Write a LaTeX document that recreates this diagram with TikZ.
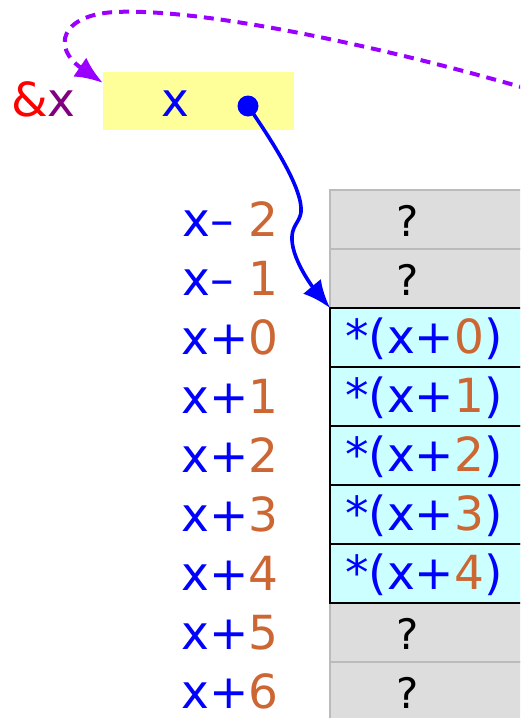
\documentclass[tikz,border=0pt]{standalone}
\usepackage{fontspec}
\setmainfont{DejaVu Sans}
\usetikzlibrary{arrows.meta}
\definecolor{numc}{HTML}{CC6633}
\definecolor{cellg}{HTML}{DDDDDD}
\definecolor{cellgb}{HTML}{BBBBBB}
\definecolor{cellc}{HTML}{CCFFFF}
\definecolor{yel}{HTML}{FFFF99}
\definecolor{purp}{HTML}{800080}
\definecolor{vio}{HTML}{9900FF}
\tikzset{
  lbl/.style={anchor=base east, inner sep=0pt, font=\fontsize{47}{53}\selectfont, text=blue},
  ctext/.style={anchor=base west, inner sep=0pt, font=\fontsize{47}{53}\selectfont, text=blue},
  qtext/.style={anchor=base, inner sep=0pt, font=\fontsize{42}{48}\selectfont, text=black},
  graycell/.style={fill=cellg, draw=cellgb, line width=1.8pt},
  cyancell/.style={fill=cellc, draw=black, line width=2pt},
  bigtip/.style={-{Latex[length=28pt,width=23pt]}},
}
\newcommand{\nm}[1]{\textcolor{numc}{#1}}
\begin{document}
\begin{tikzpicture}[x=1pt,y=-1pt]
\useasboundingbox (0,0) rectangle (520,718);
\clip (0,0) rectangle (520,718);
% yellow box
\node[fill=yel, minimum width=191pt, minimum height=58pt, inner sep=0pt, anchor=north west] (box) at (103,72) {};
\node[inner sep=0pt, font=\fontsize{47}{53}\selectfont, text=blue, anchor=base] (bx) at (175,116) {x};
\node[circle, fill=blue, minimum size=21pt, inner sep=0pt] (dot) at (248,106) {};
\node[inner sep=0pt, anchor=base west, font=\fontsize{47}{53}\selectfont] (amp) at (11,116) {\textcolor{red}{\&}\textcolor{purp}{x}};
% cells
\foreach \i in {0,1,7,8}{
  \pgfmathsetmacro{\ytop}{190+59*\i}
  \draw[graycell] (330,\ytop) rectangle (560,\ytop+59);
}
\foreach \i in {2,3,4,5,6}{
  \pgfmathsetmacro{\ytop}{190+59*\i}
  \draw[cyancell] (330,\ytop) rectangle (560,\ytop+59);
}
\coordinate (c0) at (330,308);
% cell texts
\node[qtext] (q1) at (408,236) {?};
\node[qtext] (q2) at (408,295) {?};
\node[qtext] (q3) at (408,649) {?};
\node[qtext] (q4) at (408,708) {?};
\node[ctext] (t0) at (345,353) {*(x+\nm{0})};
\node[ctext] (t1) at (345,412) {*(x+\nm{1})};
\node[ctext] (t2) at (345,471) {*(x+\nm{2})};
\node[ctext] (t3) at (345,530) {*(x+\nm{3})};
\node[ctext] (t4) at (345,589) {*(x+\nm{4})};
% labels
\node[lbl] (l1) at (279,236) {x– \nm{2}};
\node[lbl] (l2) at (279,295) {x– \nm{1}};
\node[lbl] (l3) at (279,354) {x+\nm{0}};
\node[lbl] (l4) at (279,413) {x+\nm{1}};
\node[lbl] (l5) at (279,472) {x+\nm{2}};
\node[lbl] (l6) at (279,531) {x+\nm{3}};
\node[lbl] (l7) at (279,590) {x+\nm{4}};
\node[lbl] (l8) at (279,649) {x+\nm{5}};
\node[lbl] (l9) at (279,708) {x+\nm{6}};
% blue pointer arrow
\draw[blue, line width=3.6pt, bigtip]
  (dot.center) .. controls (275,145) and (303,190) .. (301,212)
  .. controls (300,222) and (291,226) .. (292,240)
  .. controls (293,262) and (315,290) .. (c0);
% purple dashed arrow
\coordinate (far) at (545,94);
\coordinate (boxtip) at (103,83);
\draw[vio, line width=4pt, dash pattern=on 10pt off 7pt, bigtip]
  (far) .. controls (380,45) and (200,8) .. (115,12)
  .. controls (60,15) and (52,48) .. (boxtip);
\end{tikzpicture}
\end{document}
